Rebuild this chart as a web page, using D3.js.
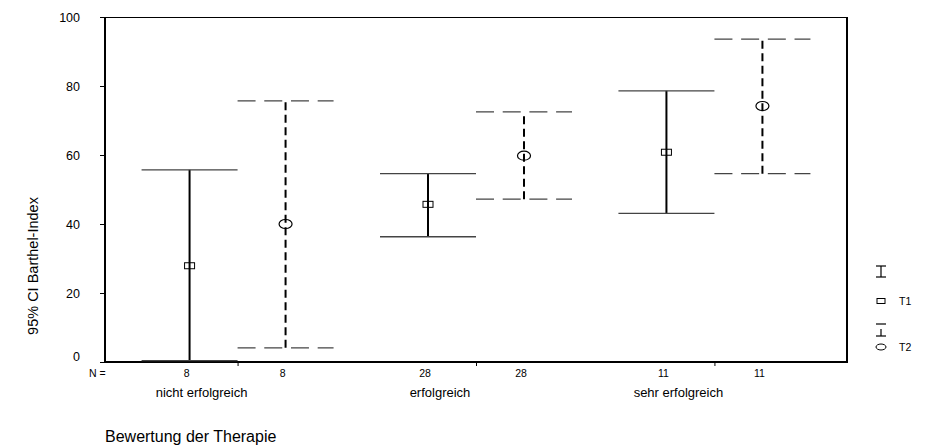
<!DOCTYPE html>
<html>
<head>
<meta charset="utf-8">
<script src="https://cdn.jsdelivr.net/npm/d3@7"></script>
<style>
  body { margin: 0; background: #fff; }
  text { font-family: "Liberation Sans", Arial, sans-serif; fill: #000; }
</style>
</head>
<body>
<div id="chart"></div>
<script>
// Werte
const groups = ['nicht erfolgreich', 'erfolgreich', 'sehr erfolgreich'];
const series = ['T1', 'T2'];
const nValues = [[8, 8], [28, 28], [11, 11]];
const t1Mean = [27.9, 45.7, 60.8];
const t1Lower = [0.4, 36.3, 43.1];
const t1Upper = [55.7, 54.6, 78.6];
const t2Mean = [40.0, 59.8, 74.2];
const t2Lower = [4.1, 47.2, 54.6];
const t2Upper = [75.7, 72.5, 93.6];
const yTicks = [0, 20, 40, 60, 80, 100];

const width = 929, height = 445;
const plot = { left: 105, right: 847, top: 17, bottom: 362 };

const svg = d3.select('#chart').append('svg')
  .attr('width', width)
  .attr('height', height);

const x = d3.scalePoint()
  .domain(groups)
  .range([plot.left, plot.right])
  .padding(0.556);

const offset = d3.scalePoint()
  .domain(series)
  .range([-48, 48]);

const y = d3.scaleLinear()
  .domain([0, 100])
  .range([plot.bottom, plot.top]);

// Rahmen oben und rechts
svg.append('line')
  .attr('x1', plot.left - 5).attr('x2', plot.right)
  .attr('y1', plot.top + 0.5).attr('y2', plot.top + 0.5)
  .attr('stroke', '#000').attr('stroke-width', 1);
svg.append('line')
  .attr('x1', plot.right).attr('x2', plot.right)
  .attr('y1', plot.top).attr('y2', plot.bottom)
  .attr('stroke', '#000').attr('stroke-width', 2);

// y-Achse
const yAxis = svg.append('g')
  .attr('transform', `translate(${plot.left},0)`)
  .call(d3.axisLeft(y).tickValues(yTicks).tickSize(5).tickPadding(20).tickFormat(d3.format('d')));
yAxis.select('.domain').attr('stroke-width', 2).attr('d', `M0,${plot.top}V${plot.bottom + 1}`);
yAxis.selectAll('.tick line').attr('stroke-width', 1);
yAxis.selectAll('.tick text')
  .style('font-size', '12.5px')
  .attr('dy', d => d === 0 ? '-0.15em' : '0.32em');

// x-Achse
const xAxis = svg.append('g')
  .attr('transform', `translate(0,${plot.bottom})`)
  .call(d3.axisBottom(x).tickSize(4).tickFormat(''));
xAxis.select('.domain').attr('stroke-width', 2).attr('d', `M${plot.left - 1},0H${plot.right + 1}`);

// Y-Titel
svg.append('text')
  .attr('transform', 'translate(38,266) rotate(-90)')
  .attr('text-anchor', 'middle')
  .style('font-size', '14.5px')
  .text('95% CI Barthel-Index');

// N-Zeile
svg.append('text')
  .attr('x', 89).attr('y', 377)
  .style('font-size', '10.5px')
  .text('N =');

const cells = [];
groups.forEach((g, gi) => {
  series.forEach((s, si) => {
    cells.push({
      group: g, series: s, n: nValues[gi][si],
      mean: s === 'T1' ? t1Mean[gi] : t2Mean[gi],
      lower: s === 'T1' ? t1Lower[gi] : t2Lower[gi],
      upper: s === 'T1' ? t1Upper[gi] : t2Upper[gi]
    });
  });
});
const cx = d => x(d.group) + offset(d.series);

svg.selectAll('.nlabel')
  .data(cells)
  .enter().append('text')
  .attr('class', 'nlabel')
  .attr('x', d => cx(d) - 3)
  .attr('y', 377)
  .attr('text-anchor', 'middle')
  .style('font-size', '10.5px')
  .text(d => d.n);

svg.selectAll('.glabel')
  .data(groups)
  .enter().append('text')
  .attr('class', 'glabel')
  .attr('x', d => x(d) - 36)
  .attr('y', 397)
  .attr('text-anchor', 'middle')
  .style('font-size', '13px')
  .text(d => d);

svg.append('text')
  .attr('x', plot.left).attr('y', 442)
  .style('font-size', '16px')
  .text('Bewertung der Therapie');

// Fehlerbalken
const bars = svg.selectAll('.ci')
  .data(cells)
  .enter().append('g')
  .attr('class', 'ci');

bars.append('line')
  .attr('x1', cx).attr('x2', cx)
  .attr('y1', d => y(d.lower)).attr('y2', d => y(d.upper))
  .attr('stroke', '#000')
  .attr('stroke-width', 2)
  .attr('stroke-dasharray', d => d.series === 'T2' ? '8,4.5' : null);

['lower', 'upper'].forEach(k => {
  bars.append('line')
    .attr('x1', d => cx(d) - 48).attr('x2', d => cx(d) + 48)
    .attr('y1', d => y(d[k])).attr('y2', d => y(d[k]))
    .attr('stroke', '#444')
    .attr('stroke-width', 1.3)
    .attr('stroke-dasharray', d => d.series === 'T2' ? '18,8.7' : null);
});

bars.filter(d => d.series === 'T1').append('rect')
  .attr('x', d => cx(d) - 5).attr('y', d => y(d.mean) - 3)
  .attr('width', 10).attr('height', 6)
  .attr('fill', 'none').attr('stroke', '#000').attr('stroke-width', 1);

bars.filter(d => d.series === 'T2').append('ellipse')
  .attr('cx', cx).attr('cy', d => y(d.mean))
  .attr('rx', 6.5).attr('ry', 4.5)
  .attr('fill', 'none').attr('stroke', '#000').attr('stroke-width', 1.2);

// Legende
const legend = svg.append('g').attr('transform', 'translate(881,0)');
const legRows = [
  { top: 266, bot: 277, mark: 301 },
  { top: 324, bot: 336, mark: 347 }
];
legRows.forEach((r, i) => {
  const dashed = series[i] === 'T2';
  legend.append('line').attr('x1', -5).attr('x2', 5).attr('y1', r.top).attr('y2', r.top)
    .attr('stroke', '#000').attr('stroke-width', 1.2);
  legend.append('line').attr('x1', -5).attr('x2', 5).attr('y1', r.bot).attr('y2', r.bot)
    .attr('stroke', '#000').attr('stroke-width', 1.2);
  legend.append('line').attr('x1', 0).attr('x2', 0)
    .attr('y1', dashed ? r.top + 5 : r.top).attr('y2', r.bot)
    .attr('stroke', '#000').attr('stroke-width', 1.2);
  if (!dashed) {
    legend.append('rect').attr('x', -4).attr('y', r.mark - 2.5).attr('width', 8).attr('height', 5)
      .attr('fill', 'none').attr('stroke', '#000');
  } else {
    legend.append('ellipse').attr('cx', 0).attr('cy', r.mark).attr('rx', 5).attr('ry', 3)
      .attr('fill', 'none').attr('stroke', '#000');
  }
  legend.append('text').attr('x', 18).attr('y', r.mark + 3.5)
    .style('font-size', '10.5px')
    .text(series[i]);
});
</script>
</body>
</html>
